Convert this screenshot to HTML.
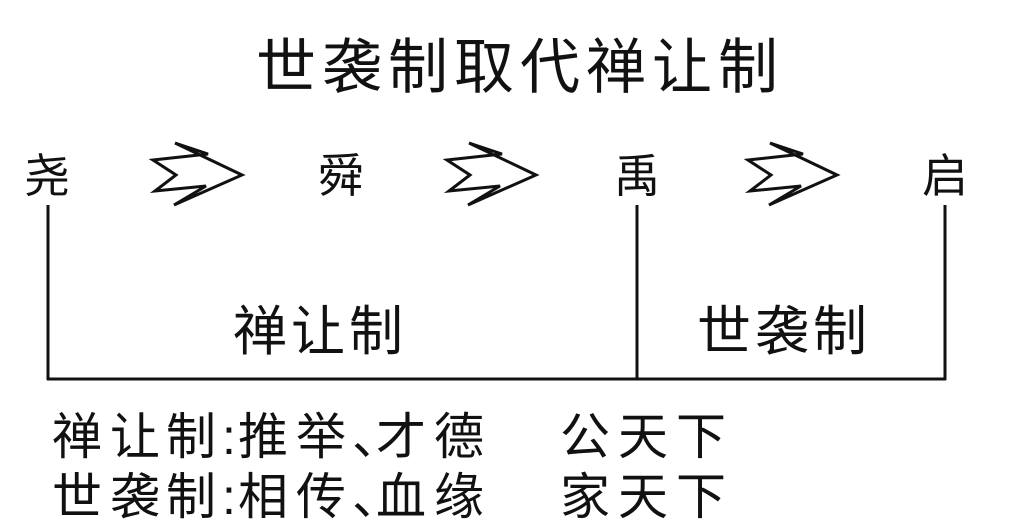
<!DOCTYPE html>
<html><head><meta charset="utf-8"><style>
html,body{margin:0;padding:0;background:#fff;width:1033px;height:528px;overflow:hidden}
text{font-family:"Liberation Sans","Noto Sans CJK SC",sans-serif;fill:#111}
</style></head><body>
<svg width="1033" height="528" viewBox="0 0 1033 528" xmlns="http://www.w3.org/2000/svg">
<text x="520" y="88" font-size="60" text-anchor="middle" letter-spacing="6">世袭制取代禅让制</text>
<g font-size="46">
<text x="24" y="192">尧</text>
<text x="318" y="192">舜</text>
<text x="614" y="192">禹</text>
<text x="922" y="192">启</text>
</g>
<g fill="none" stroke="#111" stroke-width="3" stroke-linejoin="miter">
<polygon points="153,160 208,154 175,143 242,175 174,205 206,186 155,191 176,175"/>
<polygon points="447,160 502,154 469,143 536,175 468,205 500,186 449,191 470,175"/>
<polygon points="748,160 803,154 770,143 837,175 769,205 801,186 750,191 771,175"/>
</g>
<g stroke="#111" stroke-width="3">
<line x1="48" y1="205" x2="48" y2="380"/>
<line x1="637" y1="205" x2="637" y2="380"/>
<line x1="945" y1="205" x2="945" y2="380"/>
<line x1="47" y1="379" x2="946" y2="379"/>
</g>
<g font-size="54">
<text x="320" y="350" text-anchor="middle" letter-spacing="4">禅让制</text>
<text x="784" y="350" text-anchor="middle" letter-spacing="4">世袭制</text>
</g>
<g font-size="50">
<text x="52" y="454">禅</text><text x="110" y="454">让</text><text x="166" y="454">制</text><text x="222" y="454">:</text><text x="238" y="454">推</text><text x="296" y="454">举</text><text x="352" y="454">、</text><text x="376" y="454">才</text><text x="434" y="454">德</text>
<text x="560" y="454">公</text><text x="618" y="454">天</text><text x="676" y="454">下</text>
<text x="52" y="514">世</text><text x="110" y="514">袭</text><text x="166" y="514">制</text><text x="222" y="514">:</text><text x="238" y="514">相</text><text x="296" y="514">传</text><text x="352" y="514">、</text><text x="376" y="514">血</text><text x="434" y="514">缘</text>
<text x="560" y="514">家</text><text x="618" y="514">天</text><text x="676" y="514">下</text>
</g>
</svg>
</body></html>
